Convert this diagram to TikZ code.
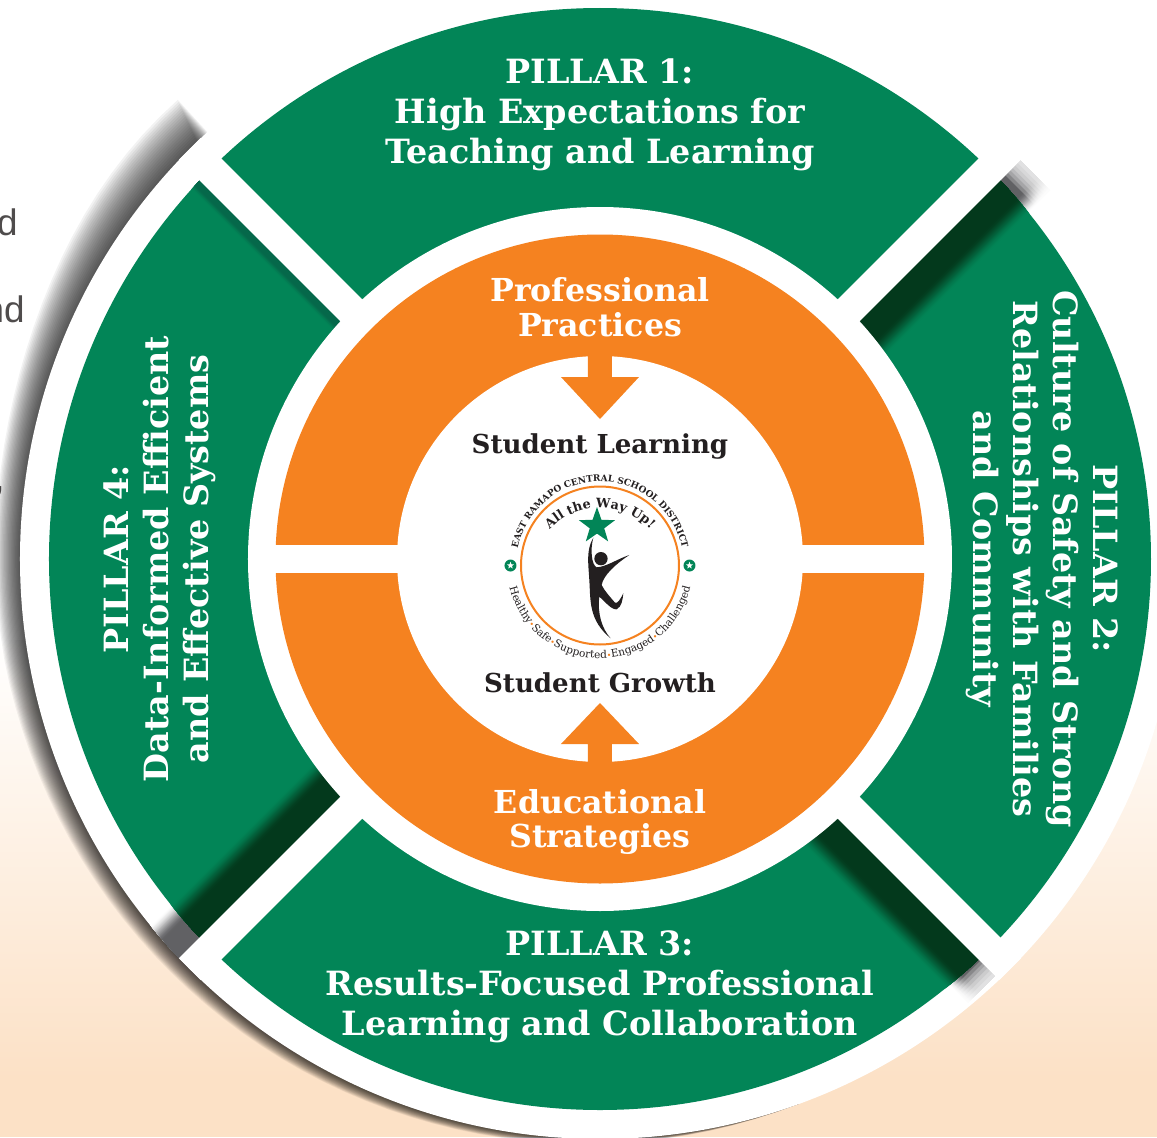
\documentclass[tikz,border=0pt]{standalone}
\usepackage{fontspec}
\usetikzlibrary{shapes.geometric,decorations.text}
\newfontfamily\slabfont{DejaVu Serif}
\newfontfamily\sidefont{Liberation Sans}
\definecolor{pillargreen}{HTML}{028557}
\definecolor{shadowgreen}{HTML}{03391C}
\definecolor{softgreen}{HTML}{05684A}
\definecolor{shadowgray}{HTML}{616164}
\definecolor{ringorange}{HTML}{F58220}
\definecolor{peach}{HTML}{FCE1C6}
\definecolor{inkdark}{HTML}{231F20}
\tikzset{
  pillar/.style={align=center,text=white,font=\slabfont\bfseries\fontsize{19}{22.7}\selectfont},
  practice/.style={align=center,text=white,font=\slabfont\bfseries\fontsize{18}{19.9}\selectfont},
  goal/.style={text=inkdark,font=\slabfont\bfseries\fontsize{14.85}{17}\selectfont},
  sidetext/.style={anchor=base east,inner sep=0pt,text=inkdark!80,font=\sidefont\fontsize{21}{25}\selectfont},
  smallstar/.style={star,star points=5,star point ratio=2.4,fill=white,inner sep=0pt,minimum size=.15cm}
}
\newcommand{\sealink}{\slabfont\fontsize{6}{7}\selectfont\color{inkdark}}
\newcommand{\sealdot}{\slabfont\fontsize{4.5}{7}\selectfont\color{ringorange}}
% soft shadow along one side of a gap: angle, side, dark, light, from, to, width
\newcommand{\gapshade}[7]{
  \begin{scope}[rotate=#1]
    \foreach \d in {#7,...,1} {
      \pgfmathsetmacro{\t}{min(1,(1-\d/#7)*2.2)}
      \pgfmathtruncatemacro{\mixval}{100*\t*\t*(3-2*\t)}
      \fill[#3!\mixval!#4] (#5,{#2*15.5}) rectangle (#6,{#2*(15.5+\d)});
    }
  \end{scope}
}
% whitens the far end of a shadow: angle, end
\newcommand{\gapfade}[2]{
  \begin{scope}[rotate=#1]
    \foreach \s in {1,...,6} {
      \fill[white,opacity=.25] ({#2-\s*3.5},-15.5) rectangle (#2+2,-62);
    }
  \end{scope}
}
\begin{document}
\begin{tikzpicture}[x=.02cm,y=.02cm]

  \clip (-600,559) rectangle (557,-578);

  % page behind the wheel
  \shade[top color=white,bottom color=peach] (-600,-81) rectangle (557,-519);
  \fill[peach] (-600,-519) rectangle (557,-578);
  \node[sidetext] (textd)  at (-582,324) {d};
  \node[sidetext] (textl)  at (-597,281) {l};
  \node[sidetext] (textnd) at (-575,237) {nd};
  \node[sidetext] (textc)  at (-595,69)  {,};

  % shadow of the outer ring
  \foreach \k in {20,...,1} {
    \pgfmathsetmacro{\startang}{134-\k*.07}
    \fill[black,opacity=.05] (0,0) -- plot[domain=\startang:290,samples=70]
      (\x:{580+\k/20*(24*min(1,(290-\x)/100)+20*exp(-((\x-135)/24)^2))}) -- cycle;
  }

  \fill[white] (0,0) circle[radius=580];

  % shadows on the white ring
  \gapshade{45}{-1}{shadowgray}{white}{500}{579}{44}
  \gapfade{45}{579}
  \begin{scope}
    \clip (0,0) circle[radius=580];
    \gapshade{-45}{-1}{shadowgray}{white}{500}{574}{40}
    \gapfade{-45}{574}
    \gapshade{225}{-1}{shadowgray}{white}{500}{580}{44}
  \end{scope}

  \fill[pillargreen] (0,0) circle[radius=551];

  % shadows on the pillars
  \begin{scope}
    \clip (0,0) circle[radius=551];
    \gapshade{45}{-1}{shadowgreen}{pillargreen}{300}{600}{44}
    \gapshade{-45}{-1}{shadowgreen}{pillargreen}{300}{600}{44}
    \gapshade{225}{-1}{shadowgreen}{pillargreen}{300}{600}{44}
    \gapshade{135}{1}{softgreen}{pillargreen}{300}{600}{12}
  \end{scope}

  % gaps between the pillars
  \fill[white,rotate=45] (-580,-15.5) rectangle (580,15.5);
  \fill[white,rotate=-45] (-580,-15.5) rectangle (580,15.5);

  \fill[white] (0,0) circle[radius=352];
  \fill[ringorange] (0,0) circle[radius=324.5];
  \fill[white] (0,0) circle[radius=203];
  \fill[white] (-330,-14) rectangle (330,14);

  % arrows into the centre
  \fill[ringorange] (-12,210) -- (-12,182) -- (-39,182) -- (0,140) -- (39,182) -- (12,182) -- (12,210) -- cycle;
  \fill[ringorange] (-12,-210) -- (-12,-185) -- (-39,-185) -- (0,-144) -- (39,-185) -- (12,-185) -- (12,-210) -- cycle;

  % pillar labels
  \node[pillar] (pillarone) at (0,444) {PILLAR 1:\\High Expectations for\\Teaching and Learning};
  \node[pillar,rotate=-90] (pillartwo) at (442,0) {PILLAR 2:\\Culture of Safety and Strong\\Relationships with Families\\and Community};
  \node[pillar] (pillarthree) at (0,-428) {PILLAR 3:\\Results-Focused Professional\\Learning and Collaboration};
  \node[pillar,rotate=90] (pillarfour) at (-440,0) {PILLAR 4:\\Data-Informed Efficient\\and Effective Systems};

  \node[practice] (profprac) at (0,252) {Professional\\Practices};
  \node[practice] (edustrat) at (0,-263) {Educational\\Strategies};
  \node[goal] (learning) at (0,113) {Student Learning};
  \node[goal] (growth) at (0,-124) {Student Growth};

  % district seal
  \begin{scope}[shift={(0,-6.5)}]
    \draw[ringorange,line width=.04cm] (0,0) circle[radius=79];
    \path[decorate,decoration={text along path,text align=center,
      text={|\slabfont\bfseries\fontsize{5.1}{6}\selectfont\color{inkdark}|EAST RAMAPO CENTRAL SCHOOL DISTRICT}}]
      (172:84) arc[start angle=172,end angle=8,radius=84];
    \path[decorate,decoration={text along path,text align=center,
      text={|\sealink|Healthy|\sealdot|•|\sealink|Safe|\sealdot|•|\sealink|Supported|\sealdot|•|\sealink|Engaged|\sealdot|•|\sealink|Challenged}}]
      (188:93) arc[start angle=188,end angle=352,radius=93];
    \path[decorate,decoration={text along path,text align=center,
      text={|\slabfont\bfseries\fontsize{7.3}{9}\selectfont\color{inkdark}|All the Way Up!}}]
      (0,-12.5) ++(138:70) arc[start angle=138,end angle=42,radius=70];
    \node[star,star points=5,star point ratio=2.5,fill=pillargreen,inner sep=0pt,minimum size=.76cm] (sealstar) at (-3,39.5) {};
    \node[circle,fill=pillargreen,inner sep=0pt,minimum size=.24cm] (leftdot) at (-89.5,0) {};
    \node[circle,fill=pillargreen,inner sep=0pt,minimum size=.24cm] (rightdot) at (89.5,0) {};
    \node[smallstar] at (leftdot) {};
    \node[smallstar] at (rightdot) {};
  \end{scope}

  % jumping figure, traced at three times the size
  \begin{scope}[shift={(-120,109)},x=.00667cm,y=-.00667cm]
    \fill[inkdark] (340,263) .. controls (318,300) and (325,340) .. (328,390)
      .. controls (332,450) and (325,510) .. (392,565)
      .. controls (365,535) and (352,490) .. (358,440)
      .. controls (375,455) and (395,480) .. (410,478)
      .. controls (425,470) and (428,450) .. (430,430)
      .. controls (420,450) and (412,462) .. (405,458)
      .. controls (390,440) and (375,425) .. (365,405)
      .. controls (370,375) and (410,340) .. (448,315)
      .. controls (410,328) and (380,350) .. (350,352)
      .. controls (335,345) and (330,300) .. cycle;
    \fill[inkdark] (363,326) circle[radius=20];
  \end{scope}

\end{tikzpicture}
\end{document}
